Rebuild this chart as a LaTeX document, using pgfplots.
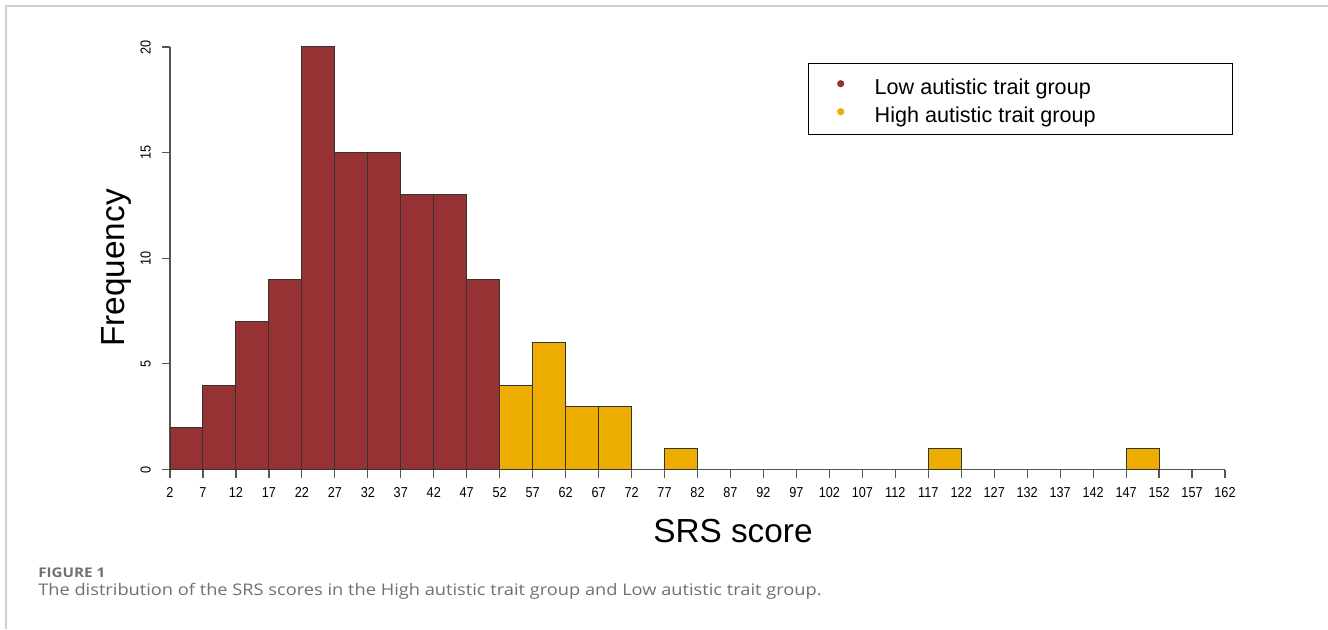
\documentclass[border=0pt]{standalone}
\usepackage{fontspec}
\setmainfont{Liberation Sans}
\newfontfamily\tickfont[FakeStretch=0.88]{Liberation Sans}
\newfontfamily\capfont[FakeStretch=1.14]{Open Sans}
\usepackage{pgfplots}
\pgfplotsset{compat=1.18}

\definecolor{lowred}{HTML}{963234}
\definecolor{highgold}{HTML}{EEAE00}
\definecolor{axisgray}{HTML}{555555}
\definecolor{framegray}{HTML}{D0D0D0}
\definecolor{capgray}{HTML}{707070}

\begin{document}
\begin{tikzpicture}[x=1pt,y=1pt]
\path[use as bounding box] (0,0) rectangle (996,471.75);
% panel frame
\draw[framegray, line width=1.1pt] (4.5,0) -- (4.5,467.25) -- (996,467.25);

\begin{axis}[
  at={(127.5pt,119.625pt)}, anchor=south west,
  scale only axis, width=791.25pt, height=316.875pt,
  xmin=2, xmax=162, ymin=0, ymax=20,
  axis lines=left,
  axis line style={-, axisgray, line width=0.9pt},
  xtick={2,7,...,162}, ytick={0,5,...,20},
  tick align=outside, major tick length=6pt,
  tick style={axisgray, line width=0.9pt},
  /pgf/number format/assume math mode=true,
  tick label style={font=\tickfont\fontsize{10.8}{12}\selectfont, text=black, inner sep=0pt},
  xticklabel style={anchor=north},
  xticklabel shift=7pt,
  yticklabel style={rotate=90, anchor=south},
  yticklabel shift=8.3pt,
  xlabel={SRS score}, ylabel={Frequency},
  label style={font=\fontsize{25}{30}\selectfont},
  xlabel style={at={(axis description cs:0.5336,-0.1456)}, anchor=center},
  ylabel style={at={(axis description cs:-0.0505,0.477)}, anchor=center},
  legend style={at={(axis description cs:0.6047,0.9621)}, anchor=north west,
    draw=black, line width=1.1pt, fill=white,
    inner xsep=0pt, inner ysep=5.6pt, row sep=0pt, column sep=0pt,
    nodes={inner sep=0pt},
    font=\fontsize{16.2}{19}\selectfont},
  legend cell align=left,
]
\addlegendimage{legend image code/.code={
  \path[draw=none, fill=none] (0pt,-10.5pt) rectangle (49.5pt,10.5pt);
  \fill[lowred, draw=none] (24pt,1.15pt) circle (2.7pt);}}
\addlegendentry{\makebox[268.5pt][l]{\rule[-5.85pt]{0pt}{21pt}Low autistic trait group}}
\addlegendimage{legend image code/.code={
  \path[draw=none, fill=none] (0pt,-10.5pt) rectangle (49.5pt,10.5pt);
  \fill[highgold, draw=none] (24pt,1.15pt) circle (2.7pt);}}
\addlegendentry{\makebox[268.5pt][l]{\rule[-5.85pt]{0pt}{21pt}High autistic trait group}}

% low autistic trait group, bins of width 5
\addplot[ybar interval, fill=lowred, draw=black!80, line width=0.75pt, forget plot]
  coordinates {(2,2) (7,4) (12,7) (17,9) (22,20) (27,15) (32,15) (37,13) (42,13) (47,9) (52,0)};
% high autistic trait group
\addplot[ybar interval, fill=highgold, draw=black!80, line width=0.75pt, forget plot]
  coordinates {(52,4) (57,6) (62,3) (67,3) (72,0)};
\addplot[ybar interval, fill=highgold, draw=black!80, line width=0.75pt, forget plot]
  coordinates {(77,1) (82,0)};
\addplot[ybar interval, fill=highgold, draw=black!80, line width=0.75pt, forget plot]
  coordinates {(117,1) (122,0)};
\addplot[ybar interval, fill=highgold, draw=black!80, line width=0.75pt, forget plot]
  coordinates {(147,1) (152,0)};
\end{axis}

\node[anchor=base west, inner sep=0pt, text=capgray,
  font=\capfont\bfseries\fontsize{10}{12}\selectfont] at (28.5,38.5) {FIGURE 1};
\node[anchor=base west, inner sep=0pt, text=capgray,
  font=\capfont\fontsize{12}{14}\selectfont] at (28.5,25.5)
  {The distribution of the SRS scores in the High autistic trait group and Low autistic trait group.};
\end{tikzpicture}
\end{document}
